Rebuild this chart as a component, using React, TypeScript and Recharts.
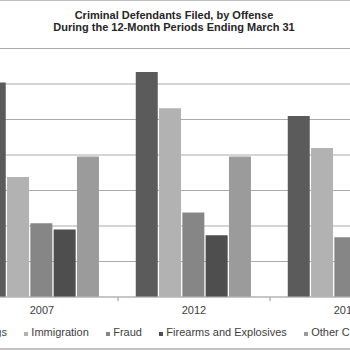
import React from 'react';
import { BarChart, Bar, XAxis, YAxis, CartesianGrid } from 'recharts';

const years = ['2007', '2012', '2017'];
const drugs = [30200, 31700, 25500];
const immigration = [16900, 26600, 21000];
const fraud = [10400, 11900, 8400];
const firearms = [9500, 8700, 8600];
const otherCriminal = [19800, 19800, 18500];
const yTicks = [0, 5000, 10000, 15000, 20000, 25000, 30000, 35000];

const seriesNames = ['Drugs', 'Immigration', 'Fraud', 'Firearms and Explosives', 'Other Criminal'];
const seriesKeys = ['drugs', 'immigration', 'fraud', 'firearms', 'other'];
const seriesColors = ['#5b5b5b', '#b2b2b2', '#868686', '#4e4e4e', '#9b9b9b'];

const data = years.map((y, i) => ({
  year: y,
  drugs: drugs[i],
  immigration: immigration[i],
  fraud: fraud[i],
  firearms: firearms[i],
  other: otherCriminal[i],
}));

const CHART_W = 456;
const CHART_H = 350;
const MARGIN = { top: 48.5, right: 0, bottom: 23, left: 0 };
const PLOT_W = CHART_W - MARGIN.left - MARGIN.right;
const HALF_BAND = PLOT_W / years.length / 2;

const FONT = '"Liberation Sans", Arial, sans-serif';

const YearTick = (props: any) => {
  const { x, y, payload } = props;
  return (
    <g>
      <line x1={x - HALF_BAND} x2={x - HALF_BAND} y1={y} y2={y + 4} stroke="#b8b8b8" />
      <line x1={x + HALF_BAND} x2={x + HALF_BAND} y1={y} y2={y + 4} stroke="#b8b8b8" />
      <text x={x} y={y + 17} textAnchor="middle" fontSize={11} fill="#404040" fontFamily={FONT}>
        {payload.value}
      </text>
    </g>
  );
};

export default function App() {
  return (
    <div
      style={{
        position: 'fixed',
        left: 0,
        top: 0,
        width: 350,
        height: 350,
        overflow: 'hidden',
        background: '#fff',
        fontFamily: FONT,
      }}
    >
      <div style={{ position: 'absolute', left: 0, top: 0, width: 350, height: 1, background: '#c0c0c0' }} />
      <div
        style={{
          position: 'absolute',
          left: -26,
          width: 400,
          top: 10,
          textAlign: 'center',
          fontWeight: 'bold',
          fontSize: 11,
          lineHeight: '11.6px',
          color: '#262626',
        }}
      >
        <div>Criminal Defendants Filed, by Offense</div>
        <div>During the 12-Month Periods Ending March 31</div>
      </div>
      <div style={{ position: 'absolute', left: -34.3, top: 0 }}>
        <BarChart width={CHART_W} height={CHART_H} data={data} margin={MARGIN} barCategoryGap={17.75} barGap={1.3}>
          <CartesianGrid vertical={false} stroke="#ababab" />
          <XAxis
            dataKey="year"
            axisLine={{ stroke: '#b8b8b8' }}
            tickLine={false}
            tickSize={0}
            tickMargin={0}
            height={30}
            interval={0}
            tick={<YearTick />}
          />
          <YAxis hide domain={[0, 35000]} ticks={yTicks} />
          {seriesKeys.map((k, i) => (
            <Bar key={k} dataKey={k} name={seriesNames[i]} fill={seriesColors[i]} isAnimationActive={false} />
          ))}
        </BarChart>
      </div>
      <div
        style={{
          position: 'absolute',
          left: -29.4,
          top: 326,
          display: 'flex',
          alignItems: 'center',
          whiteSpace: 'nowrap',
          fontSize: 11,
          color: '#404040',
          lineHeight: '13px',
        }}
      >
        {seriesNames.map((n, i) => (
          <div key={n} style={{ display: 'flex', alignItems: 'center', marginRight: 17.4 }}>
            <div style={{ width: 4, height: 4, background: seriesColors[i], marginRight: 3, marginTop: 2 }} />
            <span>{n}</span>
          </div>
        ))}
      </div>
      <div style={{ position: 'absolute', left: 0, top: 348, width: 350, height: 2, background: '#c4c4c4' }} />
    </div>
  );
}
